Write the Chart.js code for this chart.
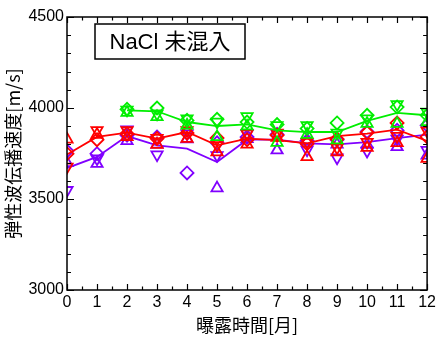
<!DOCTYPE html>
<html>
<head>
<meta charset="utf-8">
<script src="https://cdn.jsdelivr.net/npm/chart.js@4/dist/chart.umd.min.js"></script>
<style>
  html, body { margin: 0; padding: 0; background: #fff; }
  #c { display: block; }
</style>
</head>
<body>
<canvas id="c" width="439" height="338"></canvas>
<script>
// Exposure time in months
const months = [0, 1, 2, 3, 4, 5, 6, 7, 8, 9, 10, 11, 12];
const xTicks = [0, 1, 2, 3, 4, 5, 6, 7, 8, 9, 10, 11, 12];
const yTicks = [3000, 3500, 4000, 4500];

// Specimen series A (red): individual readings and average line [m/s]
const redDiamond = [3749, 3826, 3859, 3832, 3862, 3835, 3826, 3850, 3804, 3830, 3865, 3918, 3841];
const redUp      = [3828, 3854, 3841, 3799, 3832, 3758, 3800, 3837, 3731, 3758, 3782, 3808, 3722];
const redDown    = [3676, 3877, 3877, 3835, 3877, 3795, 3859, 3863, 3813, 3782, 3813, 3845, 3874];
const redLine    = [3744, 3841, 3865, 3832, 3868, 3795, 3832, 3824, 3806, 3846, 3859, 3881, 3819];

// Specimen series B (purple)
const purDiamond = [3764, 3749, 3850, 3841, 3643, 3809, 3840, 3855, 3820, 3825, 3870, 3877, 3905];
const purUp      = [3698, 3694, 3819, 3800, 3829, 3560, 3830, 3768, 3820, 3800, 3800, 3786, 3740];
const purDown    = [3548, 3722, 3881, 3744, 3859, 3740, 3859, 3860, 3771, 3727, 3764, 3830, 3768];
const purLine    = [3670, 3731, 3846, 3795, 3777, 3703, 3826, 3826, 3806, 3800, 3813, 3835, 3854];

// Specimen series C (green), measured from month 2
const grnDiamond = [null, null, 3993, 4000, 3932, 3938, 3923, 3909, 3887, 3918, 3960, 4005, 3960];
const grnUp      = [null, null, 3975, 3951, 3905, 3841, 3900, 3810, 3854, 3823, 3914, 3914, 3923];
const grnDown    = [null, null, 3990, 3969, 3942, 3924, 3954, 3905, 3905, 3863, 3942, 4020, 3978];
const grnLine    = [null, null, 3987, 3982, 3923, 3901, 3910, 3877, 3868, 3868, 3929, 3973, 3960];

const RED = '#ff0000';
const PURPLE = '#8000ff';
const GREEN = '#00ee00';

const toPts = arr => months.map((m, i) => ({ x: m, y: arr[i] }));

function lineSet(arr, color, order) {
  return {
    data: toPts(arr), showLine: true, borderColor: color, borderWidth: 1.8,
    pointRadius: 0, tension: 0, spanGaps: false, order: order
  };
}
function markerSet(arr, color, style, rotation, order) {
  return {
    data: toPts(arr), showLine: false, borderColor: color, backgroundColor: 'rgba(0,0,0,0)',
    pointStyle: style, rotation: rotation, pointRadius: 6.5, pointBorderWidth: 1.8,
    order: order
  };
}

const datasets = [
  lineSet(grnLine, GREEN, 1),
  markerSet(grnDiamond, GREEN, 'rectRot', 0, 1),
  markerSet(grnUp, GREEN, 'triangle', 0, 1),
  markerSet(grnDown, GREEN, 'triangle', 180, 1),
  lineSet(redLine, RED, 2),
  markerSet(redDiamond, RED, 'rectRot', 0, 2),
  markerSet(redUp, RED, 'triangle', 0, 2),
  markerSet(redDown, RED, 'triangle', 180, 2),
  lineSet(purLine, PURPLE, 3),
  markerSet(purDiamond, PURPLE, 'rectRot', 0, 3),
  markerSet(purUp, PURPLE, 'triangle', 0, 3),
  markerSet(purDown, PURPLE, 'triangle', 180, 3)
];

// Frame, inward ticks on all four sides, and the label box
const framePlugin = {
  id: 'frame',
  afterDatasetsDraw(chart) {
    const { ctx, chartArea: a, scales } = chart;
    const xs = scales.x, ys = scales.y;
    ctx.save();
    ctx.strokeStyle = '#000';
    ctx.lineWidth = 1.5;
    ctx.strokeRect(a.left, a.top, a.right - a.left, a.bottom - a.top);
    ctx.beginPath();
    for (let v = 0; v <= 12; v += 0.5) {
      const px = Math.round(xs.getPixelForValue(v)) + 0.5;
      const len = Number.isInteger(v) ? 6 : 3.5;
      ctx.moveTo(px, a.bottom); ctx.lineTo(px, a.bottom - len);
      ctx.moveTo(px, a.top); ctx.lineTo(px, a.top + len);
    }
    for (let v = 3000; v <= 4500; v += 100) {
      const py = Math.round(ys.getPixelForValue(v)) + 0.5;
      const len = v % 500 === 0 ? 7 : 4;
      ctx.moveTo(a.left, py); ctx.lineTo(a.left + len, py);
      ctx.moveTo(a.right, py); ctx.lineTo(a.right - len, py);
    }
    ctx.lineWidth = 1.2;
    ctx.stroke();
    ctx.restore();
  },
  afterDraw(chart) {
    const { ctx, chartArea: a } = chart;
    const bx = a.left + 28, by = a.top + 7, bw = 150, bh = 35;
    ctx.save();
    ctx.fillStyle = '#fff';
    ctx.fillRect(bx, by, bw, bh);
    ctx.strokeStyle = '#000';
    ctx.lineWidth = 1.5;
    ctx.strokeRect(bx, by, bw, bh);
    ctx.fillStyle = '#000';
    ctx.font = '22px "Liberation Sans", "Noto Sans CJK JP", sans-serif';
    ctx.textAlign = 'center';
    ctx.textBaseline = 'middle';
    ctx.fillText('NaCl 未混入', bx + bw / 2, by + bh / 2 + 1);
    ctx.restore();
  }
};

new Chart(document.getElementById('c'), {
  type: 'scatter',
  data: { datasets },
  options: {
    responsive: false,
    animation: false,
    devicePixelRatio: 1,
    layout: { padding: { left: 0, right: 9, top: 17, bottom: 0 } },
    plugins: { legend: { display: false }, tooltip: { enabled: false } },
    scales: {
      x: {
        type: 'linear', min: 0, max: 12,
        afterFit(s) { s.height = 48; },
        afterBuildTicks(s) { s.ticks = xTicks.map(v => ({ value: v })); },
        grid: { display: false, drawTicks: false },
        border: { display: false },
        ticks: {
          autoSkip: false, maxRotation: 0, padding: 3, color: '#000',
          callback: v => String(v),
          font: { family: '"Liberation Sans", sans-serif', size: 16 }
        },
        title: {
          display: true, text: '曝露時間[月]', color: '#000',
          font: { family: '"Noto Sans CJK JP", sans-serif', size: 18 },
          padding: { top: 0, bottom: 2 }
        }
      },
      y: {
        type: 'linear', min: 3000, max: 4500,
        afterFit(s) { s.width = 67; },
        afterBuildTicks(s) { s.ticks = yTicks.map(v => ({ value: v })); },
        grid: { display: false, drawTicks: false },
        border: { display: false },
        ticks: {
          padding: 3, color: '#000',
          callback: v => String(v),
          font: { family: '"Liberation Sans", sans-serif', size: 16 }
        },
        title: {
          display: true, text: '弾性波伝播速度[m/s]', color: '#000',
          font: { family: '"Noto Sans CJK JP", sans-serif', size: 18 },
          padding: { top: 2, bottom: 0 }
        }
      }
    }
  },
  plugins: [framePlugin]
});
</script>
</body>
</html>
